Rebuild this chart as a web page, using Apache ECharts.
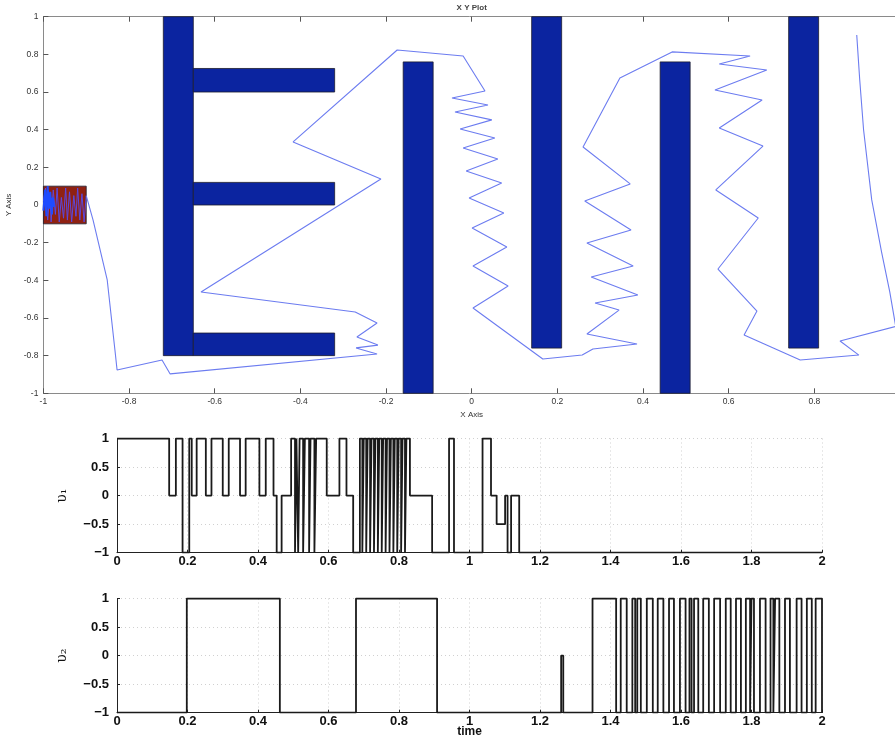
<!DOCTYPE html>
<html>
<head>
<meta charset="utf-8">
<script src="https://cdn.jsdelivr.net/npm/echarts@6/dist/echarts.min.js"></script>
<style>
  html, body { margin: 0; padding: 0; background: #fff; }
  #chart { width: 895px; height: 736px; }
</style>
</head>
<body>
<div id="chart"></div>
<script>
// ── Data: XY plot ────────────────────────────────────────────────────────
// rectangles as [x0, x1, y0, y1]
const blocks = [
  [-0.72, -0.65, -0.80, 1.00],
  [-0.65, -0.32, 0.60, 0.725],
  [-0.65, -0.32, 0.00, 0.12],
  [-0.65, -0.32, -0.80, -0.68],
  [-0.16, -0.09, -1.00, 0.76],
  [0.14, 0.21, -0.76, 1.00],
  [0.44, 0.51, -1.00, 0.76],
  [0.74, 0.81, -0.76, 1.00]
];
const redBox = [[-1.0, -0.9, -0.1, 0.1]];

// jagged trace inside the red box
const boxNoise = [
  [-1.0, 0.02], [-0.995, 0.09], [-0.99, -0.08], [-0.985, 0.06], [-0.982, -0.09],
  [-0.977, 0.08], [-0.972, -0.05], [-0.968, 0.09], [-0.963, -0.09], [-0.958, 0.04],
  [-0.953, -0.07], [-0.948, 0.09], [-0.944, -0.08], [-0.939, 0.07], [-0.934, -0.09],
  [-0.929, 0.05], [-0.924, -0.06], [-0.92, 0.09], [-0.915, -0.08], [-0.91, 0.06],
  [-0.905, -0.09], [-0.9, 0.05]
];
const boxBlob = [
  [-1.0, -0.03], [-0.996, 0.08], [-0.993, -0.06], [-0.99, 0.1], [-0.987, -0.02],
  [-0.984, 0.07], [-0.98, -0.05], [-0.978, 0.04], [-0.975, -0.01]
];

// main trajectory
const path = [
  [-0.9, 0.05], [-0.884, -0.08], [-0.851, -0.398], [-0.833, -0.77], [-0.828, -0.876],
  [-0.723, -0.823], [-0.704, -0.897], [-0.221, -0.791], [-0.27, -0.759], [-0.219, -0.744],
  [-0.268, -0.701], [-0.221, -0.627], [-0.272, -0.568], [-0.632, -0.462], [-0.212, 0.138],
  [-0.417, 0.335], [-0.174, 0.823], [-0.02, 0.791], [0.031, 0.605], [-0.046, 0.568],
  [0.038, 0.531], [-0.039, 0.494], [0.047, 0.452], [-0.027, 0.404], [0.054, 0.356],
  [-0.02, 0.303], [0.061, 0.244], [-0.013, 0.181], [0.07, 0.117], [-0.006, 0.037],
  [0.075, -0.042], [0.001, -0.122], [0.082, -0.223], [0.003, -0.324], [0.085, -0.43],
  [0.003, -0.547], [0.166, -0.818], [0.258, -0.797], [0.283, -0.765], [0.386, -0.738],
  [0.269, -0.685], [0.344, -0.558], [0.288, -0.52], [0.388, -0.478], [0.279, -0.382],
  [0.377, -0.324], [0.269, -0.202], [0.372, -0.133], [0.264, 0.021], [0.37, 0.112],
  [0.26, 0.308], [0.346, 0.674], [0.468, 0.813], [0.65, 0.791], [0.578, 0.749],
  [0.689, 0.717], [0.568, 0.611], [0.678, 0.558], [0.578, 0.409], [0.68, 0.313],
  [0.57, 0.08], [0.669, -0.069], [0.575, -0.34], [0.666, -0.563], [0.636, -0.69],
  [0.767, -0.823], [0.904, -0.797], [0.86, -0.722], [0.99, -0.645], [0.976, -0.46],
  [0.957, -0.25], [0.934, 0.027], [0.915, 0.398], [0.906, 0.664], [0.899, 0.903]
];

// ── Data: switching signals v1, v2 as [time, level] (held until next) ────
const v1 = [
  [0, 1], [0.148, 0], [0.167, 1], [0.186, -1], [0.205, 1], [0.212, 0], [0.226, 1],
  [0.252, 0], [0.268, 1], [0.300, 0], [0.317, 1], [0.349, 0], [0.365, 1], [0.404, 0],
  [0.422, 1], [0.444, 0], [0.453, -1], [0.467, 0], [0.494, 1], [0.505, -1], [0.509, 1],
  [0.514, -1], [0.518, 1], [0.528, -1], [0.533, 1], [0.545, -1], [0.549, 1], [0.560, -1],
  [0.565, 1], [0.595, 0], [0.631, 1], [0.651, 0], [0.670, -1], [0.689, 1], [0.696, -1],
  [0.700, 1], [0.707, -1], [0.711, 1], [0.718, -1], [0.722, 1], [0.729, -1], [0.733, 1],
  [0.740, -1], [0.744, 1], [0.751, -1], [0.755, 1], [0.762, -1], [0.766, 1], [0.773, -1],
  [0.777, 1], [0.784, -1], [0.788, 1], [0.795, -1], [0.799, 1], [0.806, -1], [0.810, 1],
  [0.817, -1], [0.821, 1], [0.831, 0], [0.894, -1], [0.942, 1], [0.956, -1], [1.037, 1],
  [1.061, 0], [1.077, -0.5], [1.101, 0], [1.108, -1], [1.118, 0], [1.141, -1], [2, -1]
];
const v2 = [
  [0, -1], [0.198, 1], [0.462, -1], [0.678, 1], [0.908, -1], [1.260, 0], [1.266, -1],
  [1.349, 1], [1.416, -1], [1.429, 1], [1.446, -1], [1.462, 1], [1.470, -1], [1.476, 1],
  [1.486, -1], [1.503, 1], [1.520, -1], [1.534, 1], [1.550, -1], [1.566, 1], [1.580, -1],
  [1.597, 1], [1.613, -1], [1.624, 1], [1.630, -1], [1.637, 1], [1.649, -1], [1.663, 1],
  [1.679, -1], [1.694, 1], [1.711, -1], [1.727, 1], [1.741, -1], [1.756, 1], [1.770, -1],
  [1.784, 1], [1.796, -1], [1.800, 1], [1.807, -1], [1.824, 1], [1.840, -1], [1.854, 1],
  [1.862, -1], [1.867, 1], [1.879, -1], [1.895, 1], [1.909, -1], [1.928, 1], [1.942, -1],
  [1.957, 1], [1.971, -1], [1.982, 1], [2.0, -1]
];

// ── Style ────────────────────────────────────────────────────────────────
const font = 'Liberation Sans, Arial, sans-serif';
const frameColor = '#8a8a8a';
const smallText = '#333';
const barBlue = '#0b24a0';
const boxRed = '#8f2112';
const traceBlue = '#6c7cf0';

function rectItem(fill) {
  return function (params, api) {
    const p0 = api.coord([api.value(0), api.value(3)]);
    const p1 = api.coord([api.value(1), api.value(2)]);
    return {
      type: 'rect',
      shape: { x: p0[0], y: p0[1], width: p1[0] - p0[0], height: p1[1] - p0[1] },
      style: { fill: fill, stroke: '#1c1c2c', lineWidth: 0.8 }
    };
  };
}

const minusFmt = v => (v < 0 ? '\u2212' : '') + Math.abs(+v.toFixed(2));
const smallLabel = { fontSize: 8.5, color: smallText, fontFamily: font };
const boldLabel = { fontSize: 13, fontWeight: 'bold', color: '#111', fontFamily: font };

function sigX(idx, withName) {
  return {
    type: 'value', gridIndex: idx, min: 0, max: 2, interval: 0.2,
    axisLine: { onZero: false, lineStyle: { color: '#222', width: 1 } },
    axisTick: { inside: true, length: 3, lineStyle: { color: '#222' } },
    axisLabel: Object.assign({ margin: 2, formatter: v => String(+v.toFixed(1)) }, boldLabel),
    splitLine: { show: true, lineStyle: { color: '#d0d0d0', type: [1, 3], width: 1 } },
    name: withName ? 'time' : '', nameLocation: 'middle', nameGap: 13, nameMoveOverlap: false,
    nameTextStyle: { fontSize: 12, fontWeight: 'bold', color: '#111', fontFamily: font }
  };
}
function sigY(idx, name) {
  return {
    type: 'value', gridIndex: idx, min: -1, max: 1, interval: 0.5,
    axisLine: { show: true, lineStyle: { color: '#222', width: 1 } },
    axisTick: { show: true, inside: true, length: 3, lineStyle: { color: '#222' } },
    axisLabel: Object.assign({ margin: 8, formatter: minusFmt }, boldLabel),
    splitLine: { show: true, lineStyle: { color: '#d0d0d0', type: [1, 3], width: 1 } },
    name: name, nameLocation: 'middle', nameGap: 48, nameRotate: 90,
    nameTextStyle: { fontSize: 14, color: '#111', fontFamily: 'DejaVu Serif, serif' }
  };
}

const chart = echarts.init(document.getElementById('chart'), null, { renderer: 'canvas' });
chart.setOption({
  animation: false,
  backgroundColor: '#fff',
  grid: [
    { left: 43.4, top: 16.7, width: 856.6, height: 376.6, outerBoundsMode: 'none', containLabel: false },
    { left: 117, top: 438.5, width: 705, height: 114.2, outerBoundsMode: 'none', containLabel: false },
    { left: 117, top: 598.5, width: 705, height: 114.2, outerBoundsMode: 'none', containLabel: false }
  ],
  xAxis: [
    {
      type: 'value', gridIndex: 0, min: -1, max: 1, interval: 0.2,
      axisLine: { onZero: false, lineStyle: { color: frameColor } },
      axisTick: { inside: true, length: 5, lineStyle: { color: '#555' } },
      axisLabel: Object.assign({ margin: 4, formatter: v => String(+v.toFixed(1)) }, smallLabel),
      splitLine: { show: false },
      name: 'X Axis', nameLocation: 'middle', nameGap: 15,
      nameTextStyle: { fontSize: 8, color: smallText, fontFamily: font }
    },
    {
      type: 'value', gridIndex: 0, min: -1, max: 1, interval: 0.2, position: 'top',
      axisLine: { onZero: false, lineStyle: { color: frameColor } },
      axisTick: { inside: true, length: 5, lineStyle: { color: '#555' } },
      axisLabel: { show: false }, splitLine: { show: false },
      name: 'X Y Plot', nameLocation: 'middle', nameGap: 5,
      nameTextStyle: { fontSize: 8, fontWeight: 'bold', color: '#444', fontFamily: font }
    },
    sigX(1, false),
    sigX(2, true)
  ],
  yAxis: [
    {
      type: 'value', gridIndex: 0, min: -1, max: 1, interval: 0.2,
      axisLine: { show: true, onZero: false, lineStyle: { color: frameColor } },
      axisTick: { show: true, inside: true, length: 5, lineStyle: { color: '#555' } },
      axisLabel: Object.assign({ margin: 5, formatter: v => String(+v.toFixed(1)) }, smallLabel),
      splitLine: { show: false },
      name: 'Y Axis', nameLocation: 'middle', nameGap: 28, nameRotate: 90,
      nameTextStyle: { fontSize: 8, color: smallText, fontFamily: font }
    },
    {
      type: 'value', gridIndex: 0, min: -1, max: 1, interval: 0.2, position: 'right',
      axisLine: { show: true, onZero: false, lineStyle: { color: frameColor } },
      axisTick: { show: true, inside: true, length: 5, lineStyle: { color: '#555' } },
      axisLabel: { show: false }, splitLine: { show: false }
    },
    sigY(1, 'υ\u2081'),
    sigY(2, 'υ\u2082')
  ],
  series: [
    {
      type: 'custom', xAxisIndex: 0, yAxisIndex: 0, renderItem: rectItem(boxRed),
      encode: { x: [0, 1], y: [2, 3] }, data: redBox, z: 2
    },
    {
      type: 'line', xAxisIndex: 0, yAxisIndex: 0, data: boxNoise, showSymbol: false,
      lineStyle: { color: '#5a48e0', width: 1 }, z: 3
    },
    {
      type: 'line', xAxisIndex: 0, yAxisIndex: 0, data: boxBlob, showSymbol: false,
      lineStyle: { color: '#1f4cff', width: 2 }, z: 3
    },
    {
      type: 'custom', xAxisIndex: 0, yAxisIndex: 0, renderItem: rectItem(barBlue),
      encode: { x: [0, 1], y: [2, 3] }, data: blocks, z: 2
    },
    {
      type: 'line', xAxisIndex: 0, yAxisIndex: 0, data: path, showSymbol: false,
      lineStyle: { color: traceBlue, width: 1.1 }, z: 4
    },
    {
      type: 'line', xAxisIndex: 2, yAxisIndex: 2, data: v1, step: 'end', showSymbol: false,
      lineStyle: { color: '#1a1a1a', width: 1.8 }
    },
    {
      type: 'line', xAxisIndex: 3, yAxisIndex: 3, data: v2, step: 'end', showSymbol: false,
      lineStyle: { color: '#1a1a1a', width: 1.8 }
    }
  ]
});
</script>
</body>
</html>
